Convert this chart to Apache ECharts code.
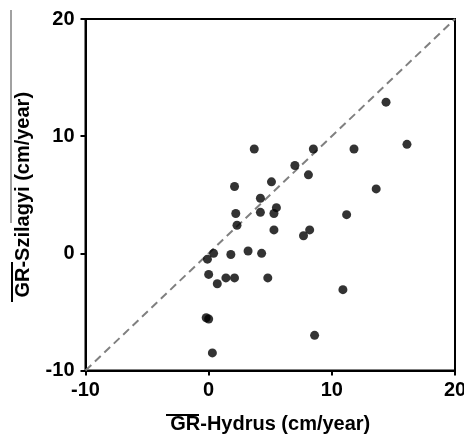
<!DOCTYPE html>
<html>
<head>
<meta charset="utf-8">
<script src="https://cdn.jsdelivr.net/npm/echarts@6/dist/echarts.min.js"></script>
<style>
html,body{margin:0;padding:0;background:#fff;}
#chart{width:464px;height:441px;}
</style>
</head>
<body>
<div id="chart"></div>
<script>
// Data
const xHydrus = [14.4, 3.7, 8.5, 11.8, 16.1, 7.0, 8.1, 2.1, 5.1, 13.6, 4.2, 2.2, 4.2, 5.5, 5.3, 11.2, 2.3, 5.3, 8.2, 7.7, 0.4, -0.1, 1.8, 3.2, 4.3, 0.0, 0.7, 1.4, 2.1, 4.8, 10.9, -0.2, 0.0, 8.6, 0.3];
const ySzilagyi = [12.9, 8.9, 8.9, 8.9, 9.3, 7.5, 6.7, 5.7, 6.1, 5.5, 4.7, 3.4, 3.5, 3.9, 3.4, 3.3, 2.4, 2.0, 2.0, 1.5, 0.0, -0.5, -0.1, 0.2, 0.0, -1.8, -2.6, -2.1, -2.1, -2.1, -3.1, -5.5, -5.6, -7.0, -8.5];
const oneToOneLine = [[-10, -10], [20, 20]];
const axisMin = -10, axisMax = 20, axisStep = 10;
const xTitle = 'GR-Hydrus (cm/year)';
const yTitle = 'GR-Szilagyi (cm/year)';

const points = xHydrus.map((x, i) => [x, ySzilagyi[i]]);
const font = 'Liberation Sans, Arial, sans-serif';

const chart = echarts.init(document.getElementById('chart'), null, {renderer: 'canvas'});
const axisCommon = {
  type: 'value', min: axisMin, max: axisMax, interval: axisStep,
  splitLine: {show: false},
  axisLine: {show: true, onZero: false, lineStyle: {color: '#000', width: 2}},
  axisTick: {show: true, inside: false, length: 5, lineStyle: {color: '#000', width: 2}},
  nameLocation: 'middle',
  nameTextStyle: {fontFamily: font, fontWeight: 'bold', fontSize: 20, color: '#000'},
  axisLabel: {fontFamily: font, fontWeight: 'bold', fontSize: 20, color: '#000'}
};
chart.setOption({
  animation: false,
  backgroundColor: '#fff',
  grid: {left: 85.5, right: 9, top: 19, bottom: 70.5, containLabel: false, outerBoundsMode: 'none',
         show: true, borderColor: '#000', borderWidth: 2, backgroundColor: 'transparent'},
  xAxis: Object.assign({}, axisCommon, {
    name: xTitle, nameGap: 44,
    axisLabel: Object.assign({}, axisCommon.axisLabel, {margin: 10})
  }),
  yAxis: Object.assign({}, axisCommon, {
    name: yTitle, nameGap: 52,
    axisLabel: Object.assign({}, axisCommon.axisLabel, {margin: 11})
  }),
  graphic: [
    {type: 'line', shape: {x1: 166, y1: 415, x2: 199, y2: 415}, style: {stroke: '#000', lineWidth: 2}},
    {type: 'line', shape: {x1: 12, y1: 262, x2: 12, y2: 302}, style: {stroke: '#000', lineWidth: 2}},
    {type: 'line', shape: {x1: 11, y1: 10, x2: 11, y2: 223}, style: {stroke: '#444', lineWidth: 1}}
  ],
  series: [
    {type: 'line', data: oneToOneLine, symbol: 'none', silent: true,
     lineStyle: {color: '#808080', width: 2, type: [8, 5]}, z: 1},
    {type: 'scatter', data: points, symbol: 'circle', symbolSize: 9,
     itemStyle: {color: '#000'}, z: 2}
  ]
});
</script>
</body>
</html>
